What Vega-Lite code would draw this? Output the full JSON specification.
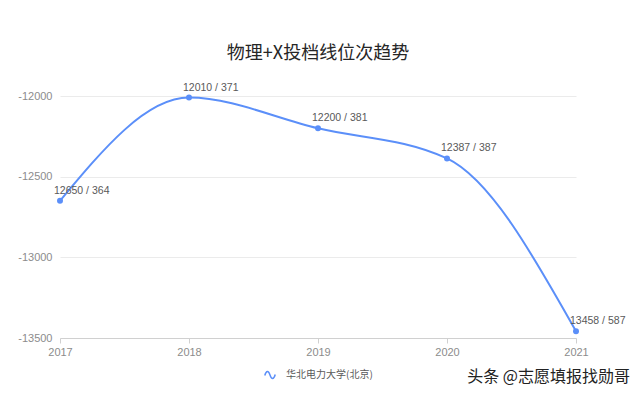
{
  "$schema": "https://vega.github.io/schema/vega-lite/v6.json",
  "autosize": "none",
  "width": 516,
  "height": 242,
  "padding": {"left": 60, "top": 96, "right": 64, "bottom": 59},
  "background": "white",
  "config": {"view": {"stroke": null}, "legend": {"layout": {"bottom": {"anchor": "middle"}}}},
  "title": {"text": "物理+X投档线位次趋势", "font": "Noto Sans CJK SC", "fontSize": 18, "fontWeight": "normal", "color": "#262626", "offset": 20, "anchor": "middle"},
  "data": {"values": [
    {"year": 2017, "value": -12650, "label": "12650 / 364", "school": "华北电力大学(北京)"},
    {"year": 2018, "value": -12010, "label": "12010 / 371", "school": "华北电力大学(北京)"},
    {"year": 2019, "value": -12200, "label": "12200 / 381", "school": "华北电力大学(北京)"},
    {"year": 2020, "value": -12387, "label": "12387 / 387", "school": "华北电力大学(北京)"},
    {"year": 2021, "value": -13458, "label": "13458 / 587", "school": "华北电力大学(北京)"}
  ]},
  "encoding": {
    "x": {"field": "year", "type": "ordinal", "scale": {"type": "point", "padding": 0},
      "axis": {"labelAngle": 0, "domain": true, "domainColor": "#d0d0d0", "ticks": true, "tickColor": "#d0d0d0", "tickSize": 5, "labelPadding": 3, "labelColor": "#8c8c8c", "labelFontSize": 11, "labelFont": "Liberation Sans", "title": null, "grid": false}}
  },
  "layer": [
    {
      "mark": {"type": "line", "interpolate": "monotone", "strokeWidth": 2},
      "encoding": {
        "y": {"field": "value", "type": "quantitative", "scale": {"domain": [-13500, -12000], "nice": false, "zero": false},
          "axis": {"values": [-12000, -12500, -13000, -13500], "labelExpr": "'' + datum.value", "domain": false, "ticks": false, "labelPadding": 8, "labelColor": "#8c8c8c", "labelFontSize": 11, "labelFont": "Liberation Sans", "grid": true, "gridColor": "#ebebeb", "title": null}},
        "color": {"field": "school", "type": "nominal", "scale": {"range": ["#5B8FF9"]},
          "legend": {"orient": "bottom", "title": null, "symbolType": "M-1,0.1 C-0.7,-0.9 -0.3,-0.9 0,0 C0.3,0.9 0.7,0.9 1,-0.1", "symbolStrokeColor": "#5B8FF9", "symbolFillColor": "transparent", "symbolStrokeWidth": 1.5, "symbolSize": 110, "labelFont": "Noto Sans CJK SC", "labelFontSize": 10, "labelColor": "#595959", "labelOffset": 10, "offset": 12}}
      }
    },
    {
      "mark": {"type": "point", "filled": true, "size": 36, "opacity": 1, "color": "#5B8FF9"},
      "encoding": {"y": {"field": "value", "type": "quantitative"}}
    },
    {
      "mark": {"type": "text", "align": "left", "baseline": "middle", "dx": -6, "dy": -10, "fontSize": 10.5, "font": "Liberation Sans", "color": "#595959"},
      "encoding": {"y": {"field": "value", "type": "quantitative"}, "text": {"field": "label"}}
    },
    {
      "data": {"values": [{"wm": "头条 @志愿填报找勋哥"}]},
      "mark": {"type": "text", "align": "right", "baseline": "middle", "dx": 54, "dy": 39, "fontSize": 16, "font": "Noto Sans CJK SC", "color": "#222222"},
      "encoding": {"x": {"datum": 2021}, "y": {"datum": -13500}, "text": {"field": "wm"}}
    }
  ]
}
